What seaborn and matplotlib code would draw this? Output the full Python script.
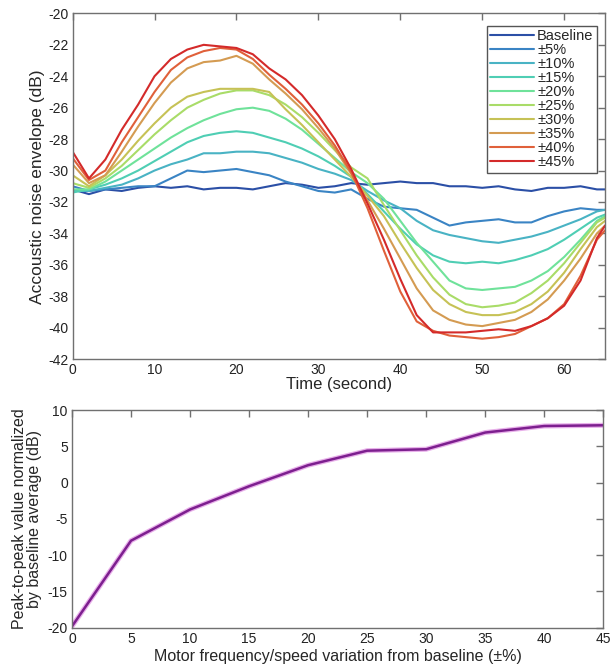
import numpy as np
import pandas as pd
import matplotlib
matplotlib.use("Agg")
import matplotlib.pyplot as plt
import seaborn as sns

# ---------------- data ----------------
TIME = [0, 2, 4, 6, 8, 10, 12, 14, 16, 18, 20, 22, 24, 26, 28, 30, 32,
        34, 36, 38, 40, 42, 44, 46, 48, 50, 52, 54, 56, 58, 60, 62, 64, 65]

SERIES_NAMES = ["Baseline", "\u00b15%", "\u00b110%", "\u00b115%", "\u00b120%",
                "\u00b125%", "\u00b130%", "\u00b135%", "\u00b140%", "\u00b145%"]

baseline = [-31.2, -31.5, -31.2, -31.3, -31.1, -31.0, -31.1, -31.0, -31.2, -31.1,
            -31.1, -31.2, -31.0, -30.8, -30.9, -31.1, -31.0, -30.8, -30.9, -30.8,
            -30.7, -30.8, -30.8, -31.0, -31.0, -31.1, -31.0, -31.2, -31.3, -31.1,
            -31.1, -31.0, -31.2, -31.2]
var05 = [-31.0, -31.3, -31.2, -31.1, -31.0, -31.0, -30.5, -30.0, -30.1, -30.0,
         -29.9, -30.1, -30.3, -30.7, -31.0, -31.3, -31.4, -31.2, -31.8, -32.3,
         -32.4, -32.5, -33.0, -33.5, -33.3, -33.2, -33.1, -33.3, -33.3, -32.9,
         -32.6, -32.4, -32.5, -32.5]
var10 = [-31.3, -31.3, -31.1, -30.9, -30.5, -30.0, -29.6, -29.3, -28.9, -28.9,
         -28.8, -28.8, -28.9, -29.2, -29.5, -29.9, -30.2, -30.6, -31.3, -31.9,
         -32.4, -33.2, -33.8, -34.1, -34.3, -34.5, -34.6, -34.4, -34.2, -33.9,
         -33.5, -33.1, -32.6, -32.5]
var15 = [-31.4, -31.2, -30.9, -30.5, -30.0, -29.4, -28.8, -28.2, -27.8, -27.6,
         -27.5, -27.6, -27.9, -28.2, -28.6, -29.1, -29.7, -30.4, -31.5, -32.6,
         -33.7, -34.7, -35.4, -35.8, -35.9, -35.8, -35.9, -35.7, -35.4, -35.0,
         -34.4, -33.7, -33.0, -32.8]
var20 = [-31.2, -31.2, -30.7, -30.0, -29.3, -28.6, -27.9, -27.3, -26.8, -26.4,
         -26.1, -26.0, -26.2, -26.7, -27.4, -28.3, -29.2, -30.1, -30.8, -31.8,
         -33.2, -34.6, -35.8, -37.0, -37.5, -37.6, -37.5, -37.4, -37.0, -36.4,
         -35.5, -34.4, -33.2, -32.9]
var25 = [-30.8, -31.1, -30.5, -29.7, -28.7, -27.7, -26.8, -26.0, -25.5, -25.1,
         -24.9, -24.9, -25.2, -25.8, -26.6, -27.6, -28.7, -29.8, -30.5, -32.2,
         -33.8, -35.4, -36.8, -37.9, -38.5, -38.7, -38.6, -38.4, -37.8, -37.0,
         -35.9, -34.6, -33.3, -33.0]
var30 = [-30.3, -31.0, -30.3, -29.3, -28.1, -27.0, -26.0, -25.3, -25.0, -24.8,
         -24.8, -24.8, -25.0, -26.1, -27.1, -28.2, -29.3, -30.4, -31.6, -32.9,
         -34.6, -36.2, -37.6, -38.5, -39.0, -39.2, -39.2, -39.0, -38.5, -37.7,
         -36.5, -35.0, -33.6, -33.2]
var35 = [-29.6, -30.8, -30.3, -28.8, -27.2, -25.7, -24.4, -23.5, -23.1, -23.0,
         -22.7, -23.2, -24.2, -25.1, -26.1, -27.3, -28.6, -30.2, -31.9, -33.7,
         -35.6, -37.5, -38.9, -39.5, -39.8, -39.9, -39.7, -39.5, -39.0, -38.2,
         -37.0, -35.6, -34.0, -33.5]
var40 = [-29.2, -30.6, -30.0, -28.2, -26.6, -25.0, -23.6, -22.8, -22.4, -22.2,
         -22.3, -22.9, -23.9, -24.8, -25.8, -27.0, -28.4, -30.1, -32.4, -35.1,
         -37.7, -39.6, -40.2, -40.5, -40.6, -40.7, -40.6, -40.4, -39.9, -39.4,
         -38.5, -36.7, -34.4, -33.8]
var45 = [-28.8, -30.5, -29.3, -27.4, -25.8, -24.0, -22.9, -22.3, -22.0, -22.1,
         -22.2, -22.6, -23.5, -24.2, -25.2, -26.5, -28.0, -29.9, -32.1, -34.4,
         -36.9, -39.2, -40.3, -40.3, -40.3, -40.2, -40.1, -40.2, -39.9, -39.4,
         -38.6, -37.0, -34.3, -33.5]

SERIES_VALUES = [baseline, var05, var10, var15, var20, var25, var30, var35, var40, var45]

SERIES_COLORS = ["#2b4fa6", "#3a84c4", "#49b3c4", "#4fceb4", "#6fe29a",
                 "#a9dc68", "#c6c256", "#d49b52", "#e0603a", "#d42a2a"]

VARIATION_PCT = [0, 5, 10, 15, 20, 25, 30, 35, 40, 45]
PEAK_TO_PEAK_DB = [-19.8, -8.0, -3.7, -0.5, 2.4, 4.4, 4.6, 6.9, 7.8, 7.9]

TOP_YTICKS = list(range(-42, -19, 2))
TOP_XTICKS = [0, 10, 20, 30, 40, 50, 60]
BOT_XTICKS = list(range(0, 46, 5))
BOT_YTICKS = list(range(-20, 11, 5))

# ---------------- style ----------------
sns.set_theme(style="white")
plt.rcParams["font.family"] = ["Liberation Sans", "DejaVu Sans"]
plt.rcParams["axes.unicode_minus"] = False
plt.rcParams["axes.edgecolor"] = "#707070"
plt.rcParams["axes.linewidth"] = 1.0
plt.rcParams["xtick.color"] = "#707070"
plt.rcParams["ytick.color"] = "#707070"
plt.rcParams["xtick.labelcolor"] = "#222222"
plt.rcParams["ytick.labelcolor"] = "#222222"

fig = plt.figure(figsize=(6.1, 6.7), dpi=100)
ax1 = fig.add_axes([0.119, 0.464, 0.873, 0.516])
ax2 = fig.add_axes([0.118, 0.063, 0.871, 0.325])

# ---------------- top panel ----------------
rows = []
for name, vals in zip(SERIES_NAMES, SERIES_VALUES):
    for t, v in zip(TIME, vals):
        rows.append({"time": t, "level": v, "series": name})
df = pd.DataFrame(rows)
palette = dict(zip(SERIES_NAMES, SERIES_COLORS))

sns.lineplot(data=df, x="time", y="level", hue="series", hue_order=SERIES_NAMES,
             palette=palette, estimator=None, sort=False, linewidth=1.5, ax=ax1)

ax1.set_xlim(0, 65)
ax1.set_ylim(-42, -20)
ax1.set_xticks(TOP_XTICKS)
ax1.set_yticks(TOP_YTICKS)
ax1.set_xlabel("Time (second)", fontsize=12, labelpad=0)
ax1.set_ylabel("Accoustic noise envelope (dB)", fontsize=12.5, labelpad=2)

handles, labels = ax1.get_legend_handles_labels()
leg = ax1.legend(handles, labels, loc="upper right", bbox_to_anchor=(0.985, 0.965),
                 fontsize=10.5, frameon=True, fancybox=False, framealpha=1,
                 edgecolor="#555555", handlelength=3.0, handletextpad=0.2,
                 labelspacing=0.0, borderpad=0.25, borderaxespad=0.0)
leg.get_frame().set_linewidth(1.0)

# ---------------- bottom panel ----------------
sns.lineplot(x=VARIATION_PCT, y=PEAK_TO_PEAK_DB, color="#e8b0ea", linewidth=3.6, ax=ax2)
sns.lineplot(x=VARIATION_PCT, y=PEAK_TO_PEAK_DB, color="#7d1f8f", linewidth=1.8, ax=ax2)
ax2.set_xlim(0, 45)
ax2.set_ylim(-20, 10)
ax2.set_xticks(BOT_XTICKS)
ax2.set_yticks(BOT_YTICKS)
ax2.set_xlabel("Motor frequency/speed variation from baseline (\u00b1%)", fontsize=11.5, labelpad=2)
ax2.set_ylabel("Peak-to-peak value normalized\nby baseline average (dB)", fontsize=11.5,
               labelpad=4, linespacing=1.0)

for ax in (ax1, ax2):
    ax.tick_params(direction="in", length=5, width=1.0, top=True, right=True,
                   labelsize=10, pad=3)
    for s in ax.spines.values():
        s.set_visible(True)

fig.savefig("out.png", dpi=100)
